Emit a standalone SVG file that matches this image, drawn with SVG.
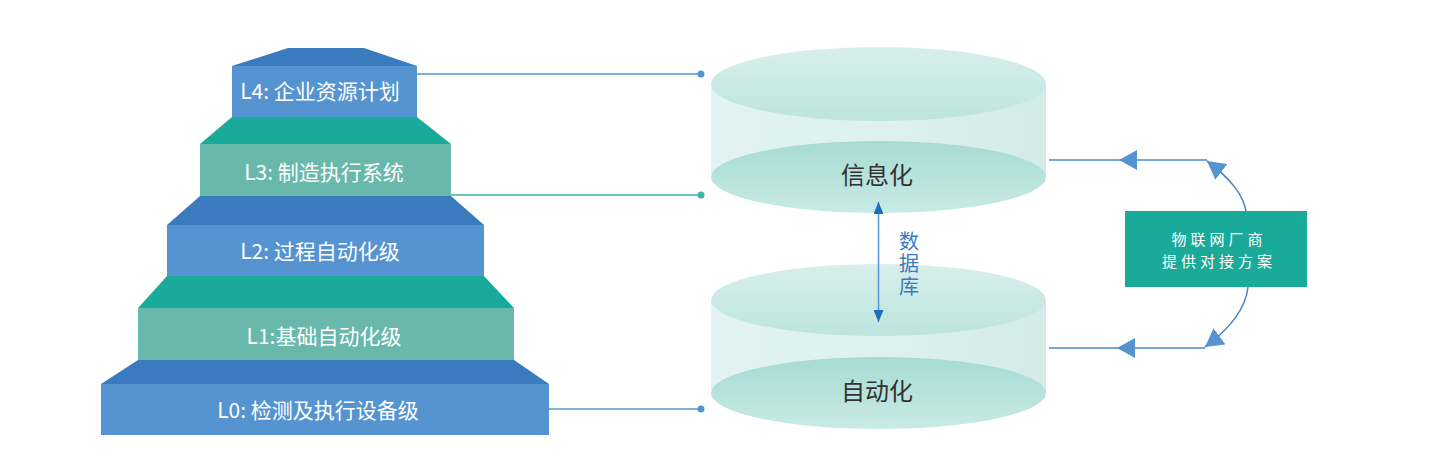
<svg xmlns="http://www.w3.org/2000/svg" width="1440" height="472" viewBox="0 0 1440 472">
<style>
.lvl{font-family:"Noto Sans CJK SC","Noto Sans",sans-serif;font-size:21px;fill:#ffffff;text-anchor:middle}
.cyl{font-family:"Noto Sans CJK SC","Noto Sans",sans-serif;font-size:24px;fill:#333333;text-anchor:middle}
.db{font-family:"Noto Sans CJK SC","Noto Sans",sans-serif;font-size:20px;fill:#3a7bbf;writing-mode:tb;letter-spacing:2.5px}
.box{font-family:"Noto Sans CJK SC","Noto Sans",sans-serif;font-size:15px;fill:#ffffff;text-anchor:middle;letter-spacing:4px}
.btop{fill:#3a7bbf}.bfront{fill:#5594d0}.ttop{fill:#1aaa9a}.tfront{fill:#68b8ac}
.conn{fill:none;stroke-width:1.6}
</style>
<defs>
<linearGradient id="gTop" x1="0" y1="0" x2="0" y2="1"><stop offset="0" stop-color="#d8efeb"/><stop offset="1" stop-color="#bde4de"/></linearGradient>
<linearGradient id="gBot" x1="0" y1="0" x2="0" y2="1"><stop offset="0" stop-color="#a6dbd4"/><stop offset="1" stop-color="#c9eae5"/></linearGradient>
<linearGradient id="gSide" x1="0" y1="0" x2="1" y2="0"><stop offset="0" stop-color="#e2f3f1"/><stop offset="0.5" stop-color="#def1ee"/><stop offset="1" stop-color="#d2ebe7"/></linearGradient>
<marker id="arr" markerUnits="userSpaceOnUse" viewBox="0 0 18 20" markerWidth="18" markerHeight="20" refX="18" refY="10" orient="auto"><path d="M0,0 L18,10 L0,20 z" fill="#5594d0"/></marker>
<marker id="arrDb" markerUnits="userSpaceOnUse" viewBox="0 0 12 10" markerWidth="12" markerHeight="10" refX="12" refY="5" orient="auto"><path d="M0,0 L12,5 L0,10 z" fill="#1a6fbf"/></marker>
</defs>

<g id="L4">
<polygon class="btop" points="288,48 364,48 417,66 232,66"/>
<rect class="bfront" x="232" y="66" width="185" height="51"/>
<text class="lvl" x="320" y="99">L4: 企业资源计划</text>
</g>
<g id="L3">
<polygon class="ttop" points="232,117 417,117 451,144 200,144"/>
<rect class="tfront" x="200" y="144" width="251" height="52"/>
<text class="lvl" x="324" y="180">L3: 制造执行系统</text>
</g>
<g id="L2">
<polygon class="btop" points="200,196 451,196 484,225 167,225"/>
<rect class="bfront" x="167" y="225" width="317" height="51"/>
<text class="lvl" x="320" y="259">L2: 过程自动化级</text>
</g>
<g id="L1">
<polygon class="ttop" points="167,276 484,276 514,308 138,308"/>
<rect class="tfront" x="138" y="308" width="376" height="52"/>
<text class="lvl" x="324" y="344">L1:基础自动化级</text>
</g>
<g id="L0">
<polygon class="btop" points="138,360 514,360 549,384 101,384"/>
<rect class="bfront" x="101" y="384" width="448" height="51"/>
<text class="lvl" x="318" y="418">L0: 检测及执行设备级</text>
</g>

<g id="cyl-info">
<rect x="711" y="84" width="335" height="93" fill="url(#gSide)"/>
<ellipse cx="878.5" cy="177" rx="167.5" ry="36" fill="url(#gBot)"/>
<ellipse cx="878.5" cy="84" rx="167.5" ry="37" fill="url(#gTop)"/>
<text class="cyl" x="877" y="184">信息化</text>
</g>
<g id="cyl-auto">
<rect x="711" y="300" width="335" height="93" fill="url(#gSide)"/>
<ellipse cx="878.5" cy="393" rx="167.5" ry="36" fill="url(#gBot)"/>
<ellipse cx="878.5" cy="300" rx="167.5" ry="36" fill="url(#gTop)"/>
<text class="cyl" x="877" y="400">自动化</text>
</g>

<g id="iot">
<rect x="1125" y="211" width="182" height="76" fill="#1aaa9a"/>
<text class="box"><tspan x="1219" y="245">物联网厂商</tspan><tspan x="1219" y="267">提供对接方案</tspan></text>
</g>

<g id="db-label">
<text class="db" x="909" y="231">数据库</text>
</g>

<g id="connectors">
<path class="conn" stroke="#5594d0" d="M417,74 H701"/>
<circle cx="701" cy="74" r="3.5" fill="#5594d0"/>
<path class="conn" stroke="#3ab5a5" d="M451,195 H701"/>
<circle cx="701" cy="195" r="3.5" fill="#3ab5a5"/>
<path class="conn" stroke="#5594d0" d="M549,409 H701"/>
<circle cx="701" cy="409" r="3.5" fill="#5594d0"/>

<path class="conn" stroke="#5a9ad6" stroke-width="1.4" d="M878.5,260 V202" marker-end="url(#arrDb)"/>
<path class="conn" stroke="#5a9ad6" stroke-width="1.4" d="M878.5,260 V322" marker-end="url(#arrDb)"/>

<path class="conn" stroke="#4a88cc" stroke-width="1.4" d="M1246,211 C1243,195 1232,180 1207,161" marker-end="url(#arr)"/>
<path class="conn" stroke="#4a88cc" stroke-width="1.4" d="M1207,160 H1119" marker-end="url(#arr)"/>
<path class="conn" stroke="#4a88cc" stroke-width="1.4" d="M1119,160 H1049"/>
<path class="conn" stroke="#4a88cc" stroke-width="1.4" d="M1248,287 C1246,305 1235,325 1205,347" marker-end="url(#arr)"/>
<path class="conn" stroke="#4a88cc" stroke-width="1.4" d="M1205,348 H1117" marker-end="url(#arr)"/>
<path class="conn" stroke="#4a88cc" stroke-width="1.4" d="M1117,348 H1049"/>
</g>
</svg>
